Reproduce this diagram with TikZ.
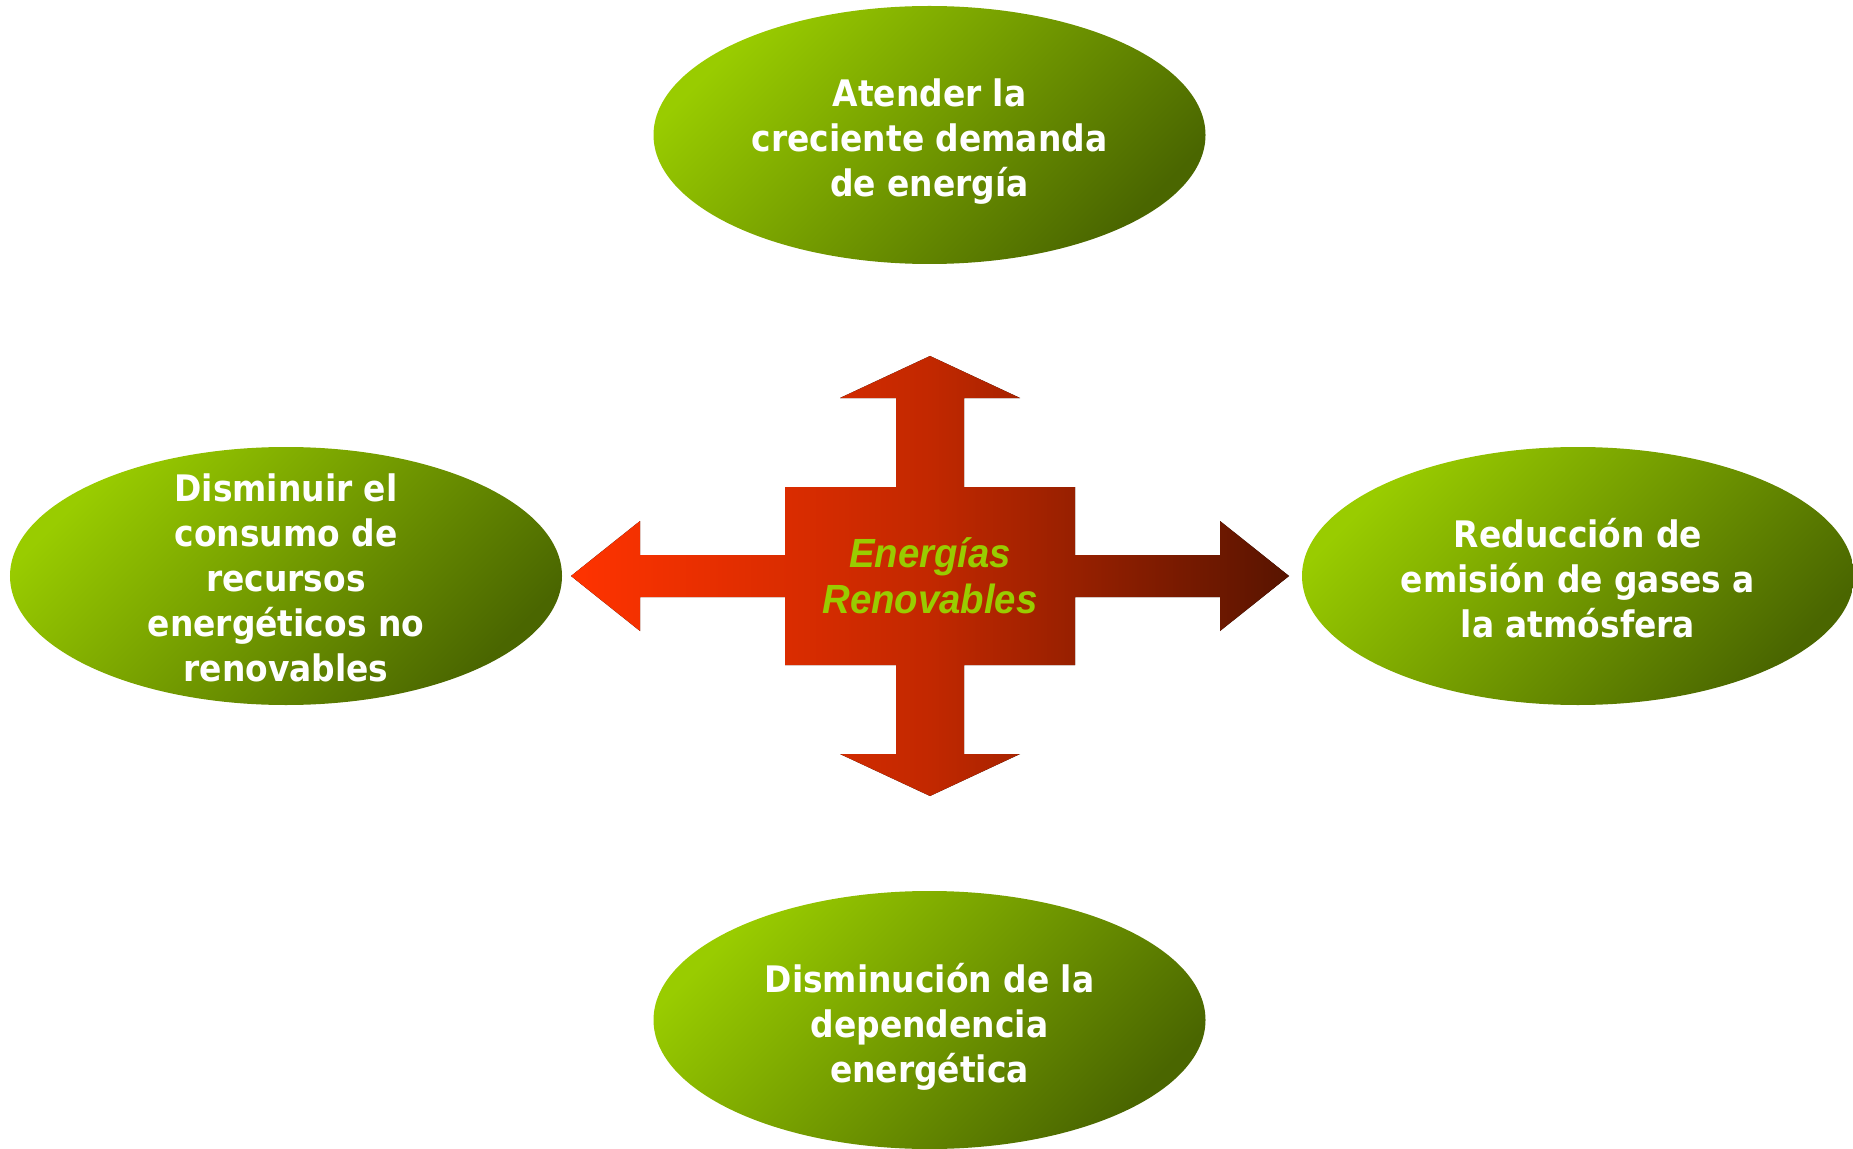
\documentclass[tikz,border=0pt]{standalone}
\usepackage{fontspec}
\usepackage{tikz}
\usetikzlibrary{shapes.geometric,positioning,calc}
\newfontfamily\ovalfont[FakeStretch=0.9]{DejaVu Sans}
\newfontfamily\crossfont[FakeStretch=0.94]{Liberation Sans}
\definecolor{ovalLight}{RGB}{153,204,0}
\definecolor{ovalDark}{RGB}{74,102,0}
\definecolor{crossLeft}{RGB}{255,51,0}
\definecolor{crossMid}{RGB}{194,40,0}
\definecolor{crossRight}{RGB}{88,20,0}
\definecolor{titleGreen}{RGB}{153,204,0}

\begin{document}
\begin{tikzpicture}[
        oval/.style={ellipse, draw=none, minimum width=5.52cm, minimum height=2.58cm,
          inner sep=0pt, top color=ovalLight, bottom color=ovalDark, shading angle=45},
        ovaltext/.style={text=white, align=center, yshift=-0.07cm,
          font=\ovalfont\bfseries\fontsize{10.4pt}{12.8pt}\selectfont},
        title/.style={text=titleGreen, align=center,
          font=\crossfont\bfseries\itshape\fontsize{11.6pt}{13pt}\selectfont},
      ]
        \useasboundingbox (0,0) rectangle (18.53,11.48);

        % outer goals
        \node[oval, label={[ovaltext]center:Atender la\\creciente demanda\\de energía}]
          (demanda) at (9.295,10.13) {};
        \node[oval, label={[ovaltext, yshift=0.05cm]center:Disminuir el\\consumo de\\recursos\\energéticos no\\renovables}]
          (recursos) at (2.86,5.72) {};
        \node[oval, label={[ovaltext, yshift=0.05cm]center:Reducción de\\emisión de gases a\\la atmósfera}]
          (emision) at (15.78,5.72) {};
        \node[oval, label={[ovaltext]center:Disminución de la\\dependencia\\energética}]
          (dependencia) at (9.295,1.28) {};

        % central cross with four arrows
        \coordinate (c) at (9.30,5.72);
        \fill[left color=crossLeft, right color=crossRight, middle color=crossMid]
          ($(c)+(-1.45,0.89)$) -- ($(c)+(-0.34,0.89)$) -- ($(c)+(-0.34,1.78)$)
          -- ($(c)+(-0.90,1.78)$) -- ($(c)+(0,2.20)$) -- ($(c)+(0.90,1.78)$)
          -- ($(c)+(0.34,1.78)$) -- ($(c)+(0.34,0.89)$) -- ($(c)+(1.45,0.89)$)
          -- ($(c)+(1.45,0.21)$) -- ($(c)+(2.90,0.21)$) -- ($(c)+(2.90,0.55)$)
          -- ($(c)+(3.59,0)$) -- ($(c)+(2.90,-0.55)$) -- ($(c)+(2.90,-0.21)$)
          -- ($(c)+(1.45,-0.21)$) -- ($(c)+(1.45,-0.89)$) -- ($(c)+(0.34,-0.89)$)
          -- ($(c)+(0.34,-1.78)$) -- ($(c)+(0.90,-1.78)$) -- ($(c)+(0,-2.20)$)
          -- ($(c)+(-0.90,-1.78)$) -- ($(c)+(-0.34,-1.78)$) -- ($(c)+(-0.34,-0.89)$)
          -- ($(c)+(-1.45,-0.89)$) -- ($(c)+(-1.45,-0.21)$) -- ($(c)+(-2.90,-0.21)$)
          -- ($(c)+(-2.90,-0.55)$) -- ($(c)+(-3.59,0)$) -- ($(c)+(-2.90,0.55)$)
          -- ($(c)+(-2.90,0.21)$) -- ($(c)+(-1.45,0.21)$) -- cycle;
        \node[title] (renovables) at (c) {Energías\\Renovables};
      \end{tikzpicture}
\end{document}
